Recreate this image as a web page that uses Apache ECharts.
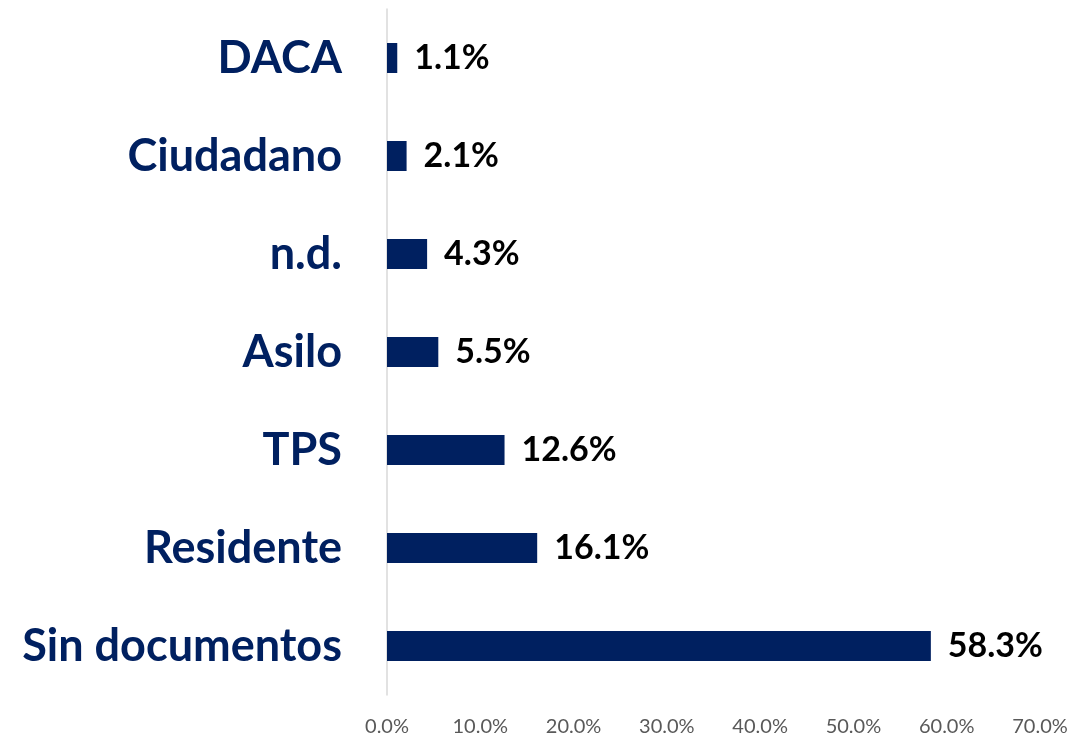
<!DOCTYPE html>
<html>
<head>
<meta charset="utf-8">
<script src="https://cdn.jsdelivr.net/npm/echarts@6/dist/echarts.min.js"></script>
<style>
  html, body { margin: 0; padding: 0; background: #fff; }
  #chart { width: 1089px; height: 737px; }
</style>
</head>
<body>
<div id="chart"></div>
<script>
// categorias de abajo hacia arriba (el eje y de echarts empieza abajo)
var categories = ['Sin documentos', 'Residente', 'TPS', 'Asilo', 'n.d.', 'Ciudadano', 'DACA'];
var values = [58.3, 16.1, 12.6, 5.5, 4.3, 2.1, 1.1];
var ticks = [0, 10, 20, 30, 40, 50, 60, 70];

var chart = echarts.init(document.getElementById('chart'));

var option = {
    animation: false,
    grid: { left: 387, right: 49, top: 9, bottom: 40, containLabel: false },
    xAxis: {
        type: 'value',
        min: ticks[0],
        max: ticks[ticks.length - 1],
        interval: 10,
        axisLine: { show: false },
        axisTick: { show: false },
        splitLine: { show: false },
        axisLabel: {
            margin: 22,
            color: '#595959',
            fontFamily: 'Lato',
            fontSize: 20,
            formatter: function (v) { return v.toFixed(1) + '%'; }
        }
    },
    yAxis: {
        type: 'category',
        data: categories,
        axisLine: { show: true, lineStyle: { color: '#d9d9d9', width: 1.5 } },
        axisTick: { show: false },
        axisLabel: {
            margin: 45,
            color: '#002060',
            fontFamily: 'Lato',
            fontWeight: 'bold',
            fontSize: 45
        }
    },
    series: [{
        type: 'bar',
        data: values,
        barWidth: 30,
        itemStyle: { color: '#002060' },
        label: {
            show: true,
            position: 'right',
            distance: 17,
            color: '#000',
            fontFamily: 'Lato',
            fontWeight: 'bold',
            fontSize: 34,
            formatter: function (p) { return p.value.toFixed(1) + '%'; }
        }
    }]
};

chart.setOption(option);
</script>
</body>
</html>
